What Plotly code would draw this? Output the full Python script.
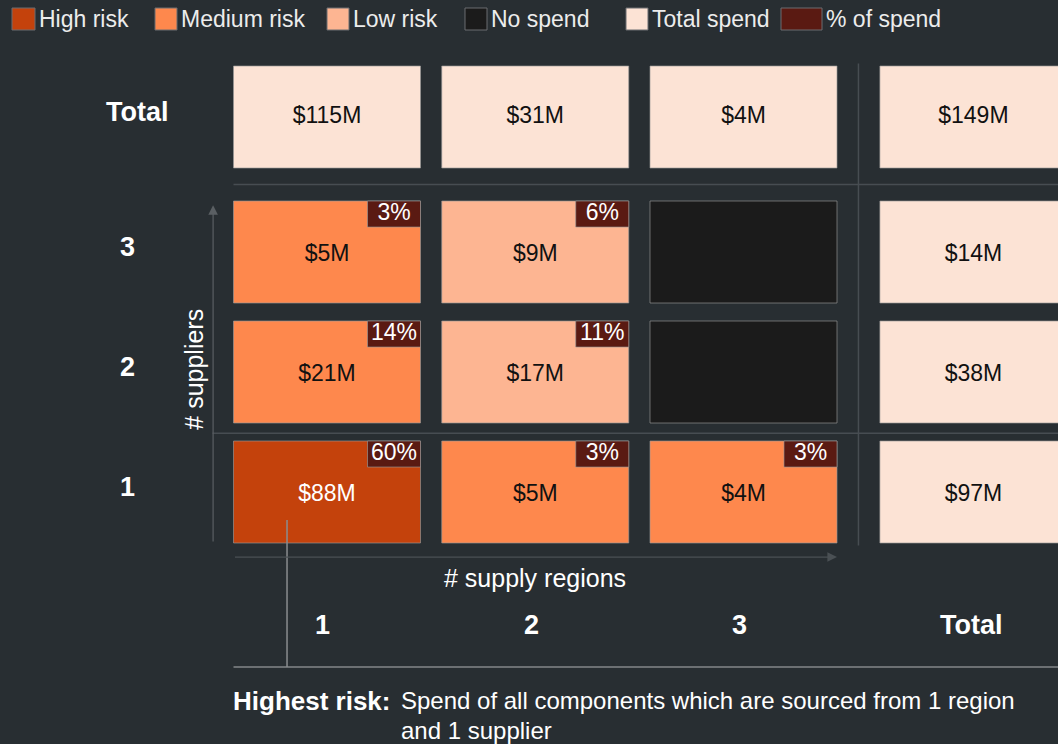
import plotly.graph_objects as go

# ---------------- data ----------------
regions = ["1", "2", "3"]                 # x categories (# supply regions)
suppliers = ["1", "2", "3"]               # y categories (# suppliers)
# spend in $M, rows = suppliers 1..3, cols = regions 1..3 (None = no spend)
spend = [
    [88, 5, 4],
    [21, 17, None],
    [5, 9, None],
]
pct_of_spend = [
    [60, 3, 3],
    [14, 11, None],
    [3, 6, None],
]
risk = [
    ["High risk", "Medium risk", "Medium risk"],
    ["Medium risk", "Low risk", "No spend"],
    ["Medium risk", "Low risk", "No spend"],
]
col_totals = [115, 31, 4]
row_totals = [97, 38, 14]
grand_total = 149

legend_labels = ["High risk", "Medium risk", "Low risk", "No spend", "Total spend", "% of spend"]
legend_colors = ["#c4420c", "#fe884d", "#fdb592", "#1b1b1b", "#fce3d5", "#5a1a12"]
color_of = dict(zip(legend_labels, legend_colors))

# ---------------- styling / layout constants ----------------
BG = "#282e32"
FONT = "Liberation Sans, Arial, sans-serif"
HW, HH = 0.449, 0.425          # half cell width / height (axis units)
BW, BH = 0.2545, 0.217         # badge size (axis units)
TOTAL_X = 3.104                # position of the "Total" column
TOTAL_Y = 4.125                # position of the "Total" row
BORDER = "rgba(150,150,150,0.65)"

fig = go.Figure()
shapes = []

def cell(xc, yc, color):
    shapes.append(dict(type="rect", xref="x", yref="y",
                       x0=xc - HW, x1=xc + HW, y0=yc - HH, y1=yc + HH,
                       fillcolor=color, line=dict(color=BORDER, width=1), layer="below"))

def badge(xc, yc):
    shapes.append(dict(type="rect", xref="x", yref="y",
                       x0=xc + HW - BW, x1=xc + HW, y0=yc + HH - BH, y1=yc + HH,
                       fillcolor=color_of["% of spend"], line=dict(color=BORDER, width=1), layer="below"))

tx, ty, tt, tc = [], [], [], []
bx, by, bt = [], [], []

# main matrix
for si in range(len(suppliers)):
    for ri in range(len(regions)):
        xc, yc = ri, si + 1
        cell(xc, yc, color_of[risk[si][ri]])
        if spend[si][ri] is not None:
            tx.append(xc); ty.append(yc - 0.03); tt.append(f"${spend[si][ri]}M")
            tc.append("#ffffff" if risk[si][ri] == "High risk" else "#111111")
        if pct_of_spend[si][ri] is not None:
            badge(xc, yc)
            bx.append(xc + HW - BW / 2); by.append(yc + HH - BH / 2)
            bt.append(f"{pct_of_spend[si][ri]}%")

# column totals (top row)
for ri, v in enumerate(col_totals):
    cell(ri, TOTAL_Y, color_of["Total spend"])
    tx.append(ri); ty.append(TOTAL_Y); tt.append(f"${v}M"); tc.append("#111111")
# row totals (right column)
for si, v in enumerate(row_totals):
    cell(TOTAL_X, si + 1, color_of["Total spend"])
    tx.append(TOTAL_X); ty.append(si + 1 - 0.03); tt.append(f"${v}M"); tc.append("#111111")
cell(TOTAL_X, TOTAL_Y, color_of["Total spend"])
tx.append(TOTAL_X); ty.append(TOTAL_Y); tt.append(f"${grand_total}M"); tc.append("#111111")

fig.add_trace(go.Scatter(x=tx, y=ty, text=tt, mode="text", hoverinfo="skip",
                         textfont=dict(family=FONT, size=23, color=tc), showlegend=False))
fig.add_trace(go.Scatter(x=bx, y=by, text=bt, mode="text", hoverinfo="skip",
                         textfont=dict(family=FONT, size=23, color="#ffffff"), showlegend=False))

# separator lines
sep = dict(color="#474d52", width=1.5)
x_left = -HW
x_right = 3.6
shapes.append(dict(type="line", xref="x", yref="y", x0=(2 + HW + TOTAL_X - HW) / 2, x1=(2 + HW + TOTAL_X - HW) / 2,
                   y0=1 - HH - 0.02, y1=TOTAL_Y + HH + 0.02, line=sep, layer="below"))
shapes.append(dict(type="line", xref="x", yref="y", x0=x_left, x1=x_right,
                   y0=(3 + HH + TOTAL_Y - HH) / 2, y1=(3 + HH + TOTAL_Y - HH) / 2, line=sep, layer="below"))
shapes.append(dict(type="line", xref="x", yref="y", x0=-0.55, x1=x_right,
                   y0=1.49, y1=1.49, line=sep, layer="below"))
# bottom rule
shapes.append(dict(type="line", xref="x", yref="y", x0=x_left, x1=x_right,
                   y0=-0.458, y1=-0.458, line=dict(color="#6c7073", width=2)))
# connector from highest-risk cell
shapes.append(dict(type="line", xref="x", yref="y", x0=-0.192, x1=-0.192,
                   y0=0.767, y1=-0.458, line=dict(color="#8a8d8f", width=1.5)))

annotations = []
# axis arrows
annotations.append(dict(x=-0.547, y=3.39, ax=-0.547, ay=1 - HH, xref="x", yref="y", axref="x", ayref="y",
                        showarrow=True, arrowhead=2, arrowsize=1.6, arrowwidth=1.2, arrowcolor="#5a5f63", text=""))
annotations.append(dict(x=2 + HW, y=0.458, ax=-HW, ay=0.458, xref="x", yref="y", axref="x", ayref="y",
                        showarrow=True, arrowhead=2, arrowsize=1.6, arrowwidth=1.2, arrowcolor="#4a5054", text=""))
annotations.append(dict(x=1, y=0.283, xref="x", yref="y", text="# supply regions", showarrow=False,
                        font=dict(family=FONT, size=25, color="#ffffff")))
annotations.append(dict(x=-0.643, y=2.02, xref="x", yref="y", text="# suppliers", showarrow=False,
                        textangle=-90, font=dict(family=FONT, size=25, color="#ffffff")))

# column / row labels
for ri, lab in enumerate(regions):
    annotations.append(dict(x=ri - 0.02, y=-0.108, xref="x", yref="y", text=f"<b>{lab}</b>", showarrow=False,
                            font=dict(family=FONT, size=27, color="#ffffff")))
annotations.append(dict(x=TOTAL_X - 0.01, y=-0.108, xref="x", yref="y", text="<b>Total</b>", showarrow=False,
                        font=dict(family=FONT, size=27, color="#ffffff")))
for si, lab in enumerate(suppliers):
    annotations.append(dict(x=-0.956, y=si + 1 + 0.04, xref="x", yref="y", text=f"<b>{lab}</b>", showarrow=False,
                            font=dict(family=FONT, size=27, color="#ffffff")))
annotations.append(dict(x=-0.91, y=TOTAL_Y + 0.04, xref="x", yref="y", text="<b>Total</b>", showarrow=False,
                        font=dict(family=FONT, size=27, color="#ffffff")))

# footnote
annotations.append(dict(x=x_left - 0.01, y=-0.74, xref="x", yref="y", xanchor="left", text="<b>Highest risk:</b>",
                        showarrow=False, font=dict(family=FONT, size=26, color="#ffffff")))
annotations.append(dict(x=0.345, y=-0.74, xref="x", yref="y", xanchor="left",
                        text="Spend of all components which are sourced from 1 region",
                        showarrow=False, font=dict(family=FONT, size=24, color="#ffffff")))
annotations.append(dict(x=0.345, y=-0.985, xref="x", yref="y", xanchor="left", text="and 1 supplier",
                        showarrow=False, font=dict(family=FONT, size=24, color="#ffffff")))

# custom legend (paper coordinates, top strip)
leg_x = [12, 155, 327, 465, 626, 781]
leg_w = [23, 22, 22, 22, 22, 41]
for lab, col, lx, lw in zip(legend_labels, legend_colors, leg_x, leg_w):
    shapes.append(dict(type="rect", xref="paper", yref="paper",
                       x0=lx / 1058, x1=(lx + lw) / 1058, y0=1 - 30 / 744, y1=1 - 8 / 744,
                       fillcolor=col, line=dict(color="#6a6d70", width=1)))
    annotations.append(dict(x=(lx + lw + 2) / 1058, y=1 - 19 / 744, xref="paper", yref="paper",
                            xanchor="left", yanchor="middle", text=lab, showarrow=False,
                            font=dict(family=FONT, size=23, color="#ececec")))

fig.update_layout(
    width=1058, height=744,
    margin=dict(l=0, r=0, t=0, b=0),
    paper_bgcolor=BG, plot_bgcolor=BG,
    shapes=shapes, annotations=annotations,
    xaxis=dict(range=[-327 / 208.25, (1058 - 327) / 208.25], visible=False, fixedrange=True),
    yaxis=dict(range=[-1.1, 5.1], visible=False, fixedrange=True),
    showlegend=False,
)

fig.write_html("out.html", config={"displayModeBar": False})

# remove the browser's default page margin so the figure fills the window
with open("out.html", "r", encoding="utf-8") as f:
    html = f.read()
html = html.replace("<head>", "<head><style>html,body{margin:0;padding:0;background:%s;overflow:hidden;}</style>" % BG, 1)
with open("out.html", "w", encoding="utf-8") as f:
    f.write(html)
